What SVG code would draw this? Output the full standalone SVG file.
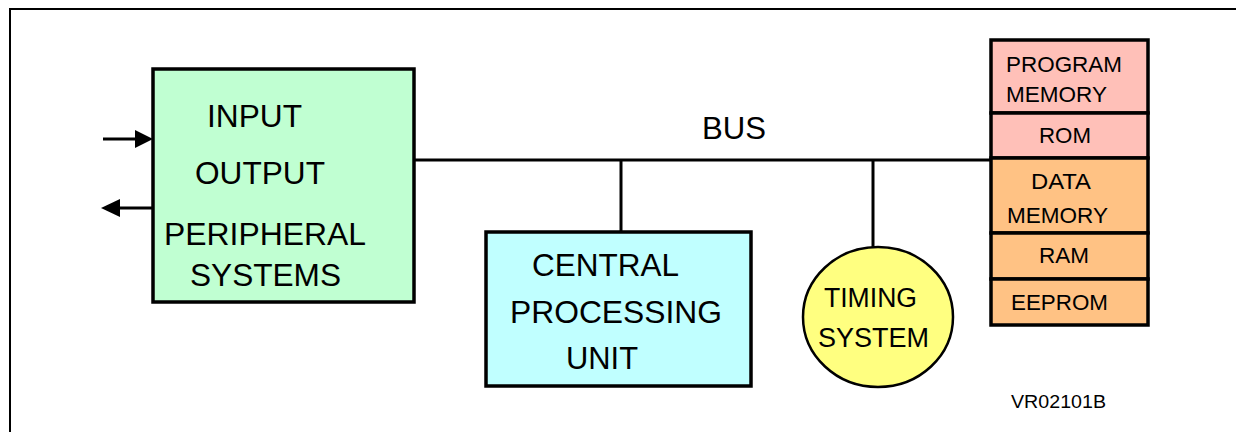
<svg xmlns="http://www.w3.org/2000/svg" width="1236" height="432" viewBox="0 0 1236 432">
<defs>
<style>
.box{stroke:#000;stroke-width:3.5}
.ln{stroke:#000;stroke-width:3;fill:none}
.t{font-family:"Liberation Sans",Arial,sans-serif;fill:#000}
.big{font-size:32px}
.mid{font-size:27px}
.sm{font-size:21.5px}
</style>
</defs>
<rect width="1236" height="432" fill="#fff"/>
<path d="M10,432 V9 H1236" fill="none" stroke="#000" stroke-width="2"/>
<g id="connectors">
<line class="ln" x1="414" y1="160" x2="992" y2="160"/>
<line class="ln" x1="621" y1="160" x2="621" y2="232"/>
<line class="ln" x1="873" y1="160" x2="873" y2="247"/>
<line class="ln" x1="103" y1="139" x2="137" y2="139"/>
<polygon points="135,130 153,139 135,148" fill="#000"/>
<line class="ln" x1="118" y1="208" x2="153" y2="208"/>
<polygon points="120,199 101,208 120,217" fill="#000"/>
</g>
<g id="io">
<rect class="box" x="153" y="69" width="261" height="233" fill="#C0FFD2"/>
<text class="t big" x="207" y="127" textLength="95" lengthAdjust="spacingAndGlyphs">INPUT</text>
<text class="t big" x="195" y="184" textLength="130" lengthAdjust="spacingAndGlyphs">OUTPUT</text>
<text class="t big" x="164" y="245" textLength="202" lengthAdjust="spacingAndGlyphs">PERIPHERAL</text>
<text class="t big" x="190" y="286" textLength="151" lengthAdjust="spacingAndGlyphs">SYSTEMS</text>
</g>
<g id="bus-label">
<text class="t big" x="702" y="139" textLength="64" lengthAdjust="spacingAndGlyphs">BUS</text>
</g>
<g id="cpu">
<rect class="box" x="486" y="232" width="265" height="154" fill="#C0FFFF"/>
<text class="t big" x="532" y="276" textLength="147" lengthAdjust="spacingAndGlyphs">CENTRAL</text>
<text class="t big" x="510" y="323" textLength="212" lengthAdjust="spacingAndGlyphs">PROCESSING</text>
<text class="t big" x="566" y="369" textLength="72" lengthAdjust="spacingAndGlyphs">UNIT</text>
</g>
<g id="timing">
<ellipse cx="878" cy="317" rx="75" ry="70" fill="#FFFF80" stroke="#000" stroke-width="2.5"/>
<text class="t mid" x="824" y="307" textLength="93" lengthAdjust="spacingAndGlyphs">TIMING</text>
<text class="t mid" x="818" y="347" textLength="111" lengthAdjust="spacingAndGlyphs">SYSTEM</text>
</g>
<g id="program-memory">
<rect class="box" x="991" y="40" width="157" height="73" fill="#FFC0B8"/>
<text class="t sm" x="1006" y="72" textLength="116" lengthAdjust="spacingAndGlyphs">PROGRAM</text>
<text class="t sm" x="1006" y="102" textLength="101" lengthAdjust="spacingAndGlyphs">MEMORY</text>
</g>
<g id="rom">
<rect class="box" x="991" y="113" width="157" height="45" fill="#FFC0B8"/>
<text class="t sm" x="1039" y="143" textLength="52" lengthAdjust="spacingAndGlyphs">ROM</text>
</g>
<g id="data-memory">
<rect class="box" x="991" y="158" width="157" height="75" fill="#FFC284"/>
<text class="t sm" x="1031" y="189" textLength="60" lengthAdjust="spacingAndGlyphs">DATA</text>
<text class="t sm" x="1007" y="223" textLength="101" lengthAdjust="spacingAndGlyphs">MEMORY</text>
</g>
<g id="ram">
<rect class="box" x="991" y="233" width="157" height="46" fill="#FFC284"/>
<text class="t sm" x="1039" y="263" textLength="50" lengthAdjust="spacingAndGlyphs">RAM</text>
</g>
<g id="eeprom">
<rect class="box" x="991" y="279" width="157" height="46" fill="#FFC284"/>
<text class="t sm" x="1011" y="310" textLength="97" lengthAdjust="spacingAndGlyphs">EEPROM</text>
</g>
<text class="t" x="1011" y="408" font-size="19" textLength="95" lengthAdjust="spacingAndGlyphs">VR02101B</text>
</svg>
